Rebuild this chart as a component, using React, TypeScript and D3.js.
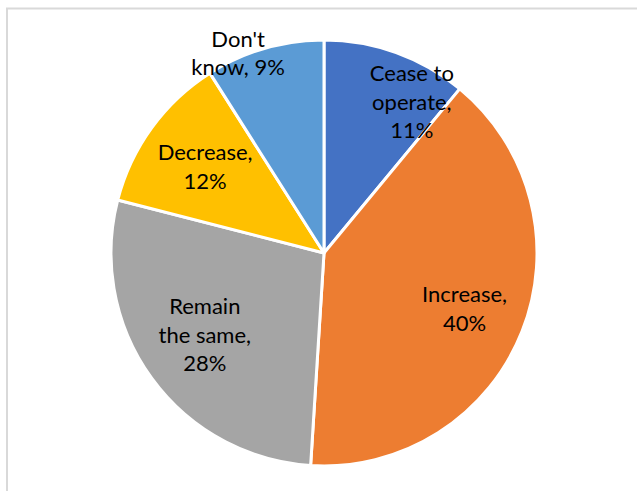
import React from "react";
import * as d3 from "d3";

const categories = ["Cease to operate", "Increase", "Remain the same", "Decrease", "Don't know"];
const values = [11, 40, 28, 12, 9];
const colors = ["#4472C4", "#ED7D31", "#A5A5A5", "#FFC000", "#5B9BD5"];
const labelLines = [
  ["Cease to", "operate,", "11%"],
  ["Increase,", "40%"],
  ["Remain", "the same,", "28%"],
  ["Decrease,", "12%"],
  ["Don't", "know, 9%"],
];
// label centre as fraction of radius from centre, and angular nudge (degrees)
const labelRadius = [0.82, 0.71, 0.68, 0.69, 1.02];
const labelAngleShift = [10.4, 0, 1.4, 0, -7.1];

export default function App() {
  const W = 637, H = 491;
  const cx = 324, cy = 253, r = 213;
  const data = categories.map((c, i) => ({ c, v: values[i], i }));
  const pie = d3.pie<any>().value((d) => d.v).sort(null);
  const arcs = pie(data);
  const arc = d3.arc<any>().innerRadius(0).outerRadius(r);
  const lh = 28.5;
  return (
    <svg width={W} height={H} style={{ position: "absolute", left: 0, top: 0 }}>
      <rect x={0} y={0} width={W} height={H} fill="#fff" />
      <rect x={7} y={8.5} width={W + 10} height={H + 10} fill="none" stroke="#d9d9d9" strokeWidth={2} />
      <g transform={`translate(${cx},${cy})`}>
        {arcs.map((a, i) => (
          <path key={i} d={arc(a) as string} fill={colors[i]} stroke="#fff" strokeWidth={3} strokeLinejoin="round" />
        ))}
        {arcs.map((a, i) => {
          const mid = (a.startAngle + a.endAngle) / 2 + (labelAngleShift[i] * Math.PI) / 180;
          const rr = r * labelRadius[i];
          const x = Math.sin(mid) * rr;
          const y = -Math.cos(mid) * rr;
          const lines = labelLines[i];
          const y0 = y - ((lines.length - 1) * lh) / 2;
          return (
            <text key={i} textAnchor="middle" fontFamily="Lato, 'Liberation Sans', sans-serif" fontSize={22} fill="#000">
              {lines.map((l, j) => (
                <tspan key={j} x={x} y={y0 + j * lh} dy="0.35em">{l}</tspan>
              ))}
            </text>
          );
        })}
      </g>
    </svg>
  );
}
